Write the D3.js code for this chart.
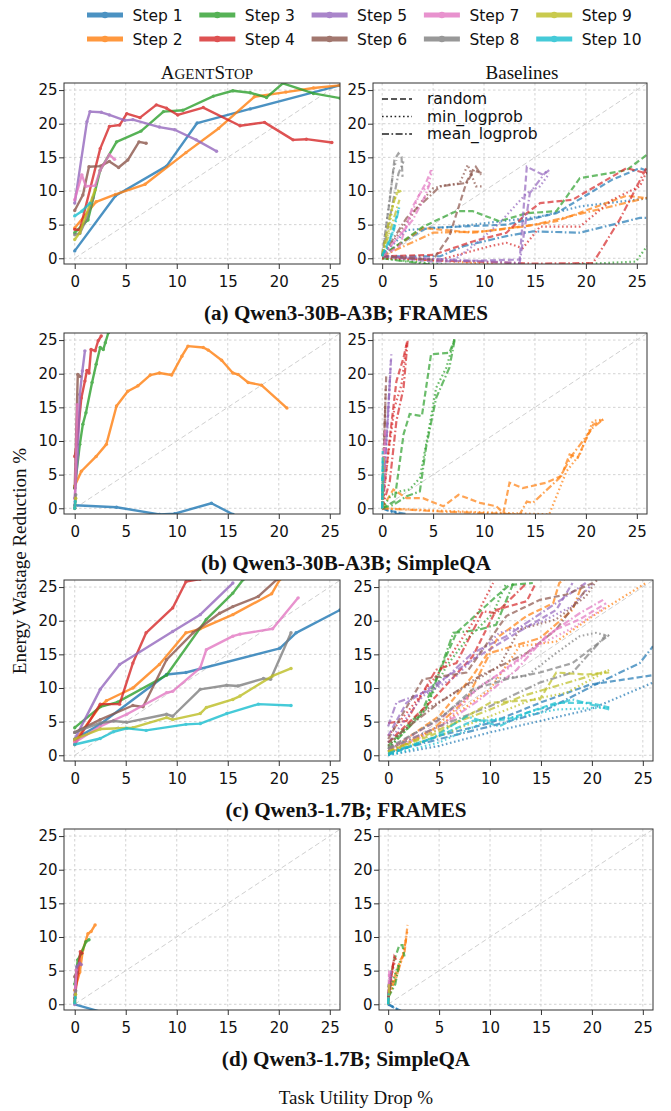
<!DOCTYPE html>
<html><head><meta charset="utf-8">
<script src="https://cdn.jsdelivr.net/npm/d3@7"></script>
<style>body{margin:0;background:#fff} svg{display:block}</style>
</head><body><svg id="c" width="671" height="1111"></svg>
<script>
const xTicks=[0,5,10,15,20,25];
const yTicks=[0,5,10,15,20,25];
const steps=["Step 1","Step 2","Step 3","Step 4","Step 5","Step 6","Step 7","Step 8","Step 9","Step 10"];
const methods=["random","min_logprob","mean_logprob"];
const captions=["(a) Qwen3-30B-A3B; FRAMES","(b) Qwen3-30B-A3B; SimpleQA","(c) Qwen3-1.7B; FRAMES","(d) Qwen3-1.7B; SimpleQA"];
const colTitles=["AgentStop","Baselines"];
const yLabel="Energy Wastage Reduction %";
const xLabel="Task Utility Drop %";
const colors=["#1f77b4","#ff7f0e","#2ca02c","#d62728","#9467bd","#8c564b","#e377c2","#7f7f7f","#bcbd22","#17becf"];

// ---- (a) Qwen3-30B-A3B; FRAMES ----
const A_agent=[
[[0,1.1],[4,9.3],[9,13.7],[12,20.1],[17.2,22.2],[26,25.7]],
[[0,4.5],[2.1,8.4],[4,9.5],[6.9,11],[10.9,15.7],[14.1,19.3],[17.6,24],[20.7,24.7],[23.4,25.3],[26,25.7]],
[[0,3.8],[1.3,5.7],[2.5,13.1],[4.1,17.3],[6.5,18.9],[8.7,21.8],[10.6,22],[13.6,24.1],[15.5,24.9],[17.2,24.6],[18.8,23.9],[20.4,26],[23.4,24.5],[26,23.8]],
[[0,4.3],[0.5,4.2],[2.5,16.3],[3.4,19.6],[4.4,19.8],[5.1,21.5],[6.4,20.9],[8,22.8],[9,22.3],[10.1,21.3],[12.6,22.4],[16.2,19.7],[18.6,20.2],[21.4,17.6],[22.7,17.7],[25.2,17.2]],
[[0,8.2],[1.2,20.3],[1.5,21.8],[2.6,21.7],[3.4,21.3],[4.9,20.5],[5.7,20.6],[8.3,19.5],[9.8,19.1],[11.9,17.6],[13.9,15.9]],
[[0,7.1],[0.8,9.4],[1.4,13.6],[2.5,13.7],[3.4,14.4],[4.3,13.5],[5.2,14.6],[6.3,17.3],[7,17.1]],
[[0,8.7],[0.7,12.4],[1.1,10.7],[2,10.8],[2.5,13.1],[3.4,15.4],[3.9,14.7]],
[[0,3.5],[0.5,3.7],[1.2,6],[1.8,9]],
[[0,2.8],[0.5,3.8],[2,10.2]],
[[0,6.3],[0.7,7],[1.5,8.2]]];
const A_random=[
[[0,0.5],[4.3,4.5],[12.2,5],[17.1,6.7],[22.6,11.7],[25.3,13.4],[26,13]],
[[0,0.3],[4,4.5],[8.9,3.8],[13.8,4.7],[17.1,5.5],[22,8.2],[24,9.3],[26,8.9]],
[[0,0.3],[4,4.7],[7.3,7],[8.9,7],[11.5,5.5],[14.2,6.7],[17.1,7],[19.4,11.9],[24,13.1],[26,15.4]],
[[0,0.3],[5,0.5],[8.9,2.5],[12.2,3.8],[14.2,6.7],[15.5,8.2],[18.7,8.7],[24,13.4],[26,12.6]],
[[0,0.3],[5,-0.5],[13.5,-0.2],[14.2,13.6],[15.8,12.4],[16.4,13.1]],
[[0,0.3],[5,-0.2],[6.6,3.3],[8.3,11.4],[8.9,13.1],[9.9,12.6]],
[[0,0.3],[1.7,1.8],[3,7.7],[4.3,11.2],[4.8,13.1]],
[[0,0.5],[0.75,8.7],[1.2,14.6],[1.6,15.6],[1.9,15.1],[2,12.1]],
[[0,0.5],[0.75,6.2],[1.4,9.7],[2.1,10.2]],
[[0,0.5],[0.75,2.8],[1.6,7.2]]];
const A_minlp=[
[[0,0.3],[2.4,4.2],[7.3,4.7],[15.5,6.2],[19.4,7.7],[26,8.9]],
[[0,0],[5,-0.3],[11,-0.9],[14,-2]],
[[0,0],[3,-0.5],[10,-1.5],[24.9,-0.5],[26,1.8]],
[[0,0],[5.7,-0.2],[10.6,1.8],[12.2,2.3],[13.8,1.5],[15.5,4.7],[19.4,4.7],[22.6,8.7],[25.3,10.7],[26,13]],
[[0,0.3],[7,-0.3],[8.9,1.8],[11.5,5.2],[14.2,9.7],[15.5,10.7],[16.4,12.6]],
[[0,0.3],[4,8.7],[5,10.4],[6.3,10.9],[7.6,11.1],[8.4,13.9],[9.2,10.7],[9.9,10.7]],
[[0,0.3],[2.4,4.7],[3.7,9.7],[4.5,10.7],[4.9,13.1]],
[[0,0.3],[0.6,7.2],[1.1,13.1],[1.4,14.6]],
[[0,0.3],[0.6,3.8],[1.1,8.2],[1.6,10.2]],
[[0,0.3],[0.6,1.8],[1.2,4.7]]];
const A_meanlp=[
[[0,0.3],[5.7,0.3],[8,1.8],[12.2,3.3],[14.8,4],[19.4,3.8],[25.3,6],[26,6]],
[[0,0.3],[5,3.8],[10,4],[15,5],[20,6.8],[26,9]],
[[0,0],[5,-1],[26,-2]],
[[0,0.3],[5,-0.3],[15,-0.8],[20.7,-0.7],[23.3,5.7],[26,13.6]],
[[0,0.3],[8,-0.3],[13.5,-0.7],[14.5,9.7],[16.1,12.9]],
[[0,0.3],[2.4,6],[5.7,10.7],[8.3,11.2],[9.2,13.6],[9.7,12.4]],
[[0,0.3],[3,5.7],[4.2,9.2],[4.7,11.2]],
[[0,0.3],[1.1,8.7],[1.6,12.6],[2.1,14.4]],
[[0,0.3],[0.9,4.7],[1.7,8.7]],
[[0,0.3],[1.1,3.8],[1.7,7.7]]];

// ---- (b) Qwen3-30B-A3B; SimpleQA ----
const B_agent=[
[[0,0.45],[4.1,0.15],[8.3,-0.9],[9.8,-0.8],[13.4,0.75],[15.5,-0.9],[17,-2]],
[[0,3.3],[0.65,5.5],[2.1,7.7],[3.1,9.5],[4.1,15.2],[5.2,17.4],[6.2,18.2],[7.4,19.8],[8.3,20.1],[9.5,19.8],[10.5,22.6],[11.1,24.1],[12.6,23.9],[13.1,23.5],[14.4,22],[15.5,20.1],[16,19.9],[17,18.7],[18.3,18.3],[20.8,14.9]],
[[0,3],[0.5,9.5],[0.8,12.5],[1.1,14.2],[1.7,18.7],[2.1,21.4],[2.5,23.9],[2.8,23.6],[3,24.6],[3.3,26.1],[3.6,27]],
[[0,7.7],[0.2,9.5],[0.65,16.4],[1,18.9],[1.2,20.5],[1.4,20.1],[1.6,23.6],[2,23.4],[2.3,24.9],[2.6,25.6]],
[[0,1.5],[0.3,8],[0.5,16.9],[0.75,20.4],[1,23.4]],
[[0,3],[0.3,19.9],[0.5,19.6]],
[[0,0],[0.25,15.4]],
[[0,0],[0.1,2]],
[[0,0],[0.1,1.5]],
[[0,0],[0.05,1]]];
const B_random=[
[[0,0],[1.4,-0.6],[2.5,-0.9]],
[[0,0],[1.1,2.8],[2.4,1.5],[4,1.5],[6,0.3],[7.5,2],[9.6,0.8],[11.2,0.3],[11.9,-0.7],[12.5,3.8],[13.8,3],[16.1,3.8],[17.6,4.8],[18.4,8],[19.2,7.5],[20,10.2],[20.7,12.4],[21.7,13.2]],
[[0,0],[1.2,1],[2.1,11],[2.7,14],[3.9,13.7],[4.8,22.9],[6.6,23.1],[7.1,25.1]],
[[0,0],[0.75,10.5],[1.4,18.9],[2.1,22.4],[2.5,25.1]],
[[0,0],[0.5,12],[0.9,22.9]],
[[0,0],[0.4,19.9]],
[[0,0],[0.3,12]],
[[0,0],[0.1,6]],
[[0,0],[0.15,8]],
[[0,0],[0.05,8.5]]];
const B_minlp=[
[[0,0],[1,-0.4],[2,-0.8]],
[[0,0],[8,-0.5],[16.4,-0.9],[18.1,5.5],[19.4,8],[20.7,13],[21.7,13.2]],
[[0,0],[0.9,2],[1.7,2.5],[2.7,2.8],[3.7,4.5],[4.5,11],[5.3,17.9],[6.3,20.9],[7.1,25.1]],
[[0,0],[0.6,8],[1.2,14.9],[1.9,18.4],[2.4,24.4]],
[[0,0],[0.6,14],[0.85,22]],
[[0,0],[0.35,18]],
[[0,0],[0.25,10]],
[[0,0],[0.1,5]],
[[0,0],[0.1,7]],
[[0,0],[0.08,6]]];
const B_meanlp=[
[[0,0],[0.8,-0.5],[1.8,-1]],
[[0,0],[6,-0.5],[13.5,-0.9],[14.2,1],[14.8,0.8],[17.4,4.5],[18.7,8],[20.7,12],[21.7,13.2]],
[[0,0],[1.1,0.5],[2.4,1.8],[3.7,2.5],[4.3,9],[5.3,16.4],[6.6,20.9],[7.1,24.9]],
[[0,0],[0.75,4],[1.4,13],[2.1,17.9],[2.5,24.9]],
[[0,0],[0.4,10],[0.8,20]],
[[0,0],[0.3,15]],
[[0,0],[0.2,9]],
[[0,0],[0.12,4]],
[[0,0],[0.1,6]],
[[0,0],[0.06,7]]];

// ---- (c) Qwen3-1.7B; FRAMES ----
const C_agent=[
[[0,2.4],[2.5,4.6],[9,12],[10.9,12.3],[20.1,15.9],[21.7,18.2],[26,21.6]],
[[0,2.1],[2.5,7.3],[3.1,8.1],[5.7,10],[8.3,13.5],[10.9,18.2],[12.3,18.8],[15.5,20.9],[19.3,24],[20.1,26.1]],
[[0,4.1],[2.5,7.2],[4.2,7.9],[9,11.9],[12.9,20.2],[15.5,24.1],[16.5,26.1]],
[[0,1.6],[2.5,7.6],[4.4,7.6],[5.7,13.7],[7,18.2],[9.6,21.9],[10.9,25.8],[12.3,26.2]],
[[0,2.4],[2.5,9.8],[4.4,13.5],[9.6,18.4],[12.3,20.9],[15.5,25.6]],
[[0,3.4],[2.5,5.3],[5.7,7.4],[6.7,7.2],[9,14.2],[11.6,18.2],[14.2,21.1],[15.5,22.1],[18,23.6],[19.8,26.1]],
[[0,1.9],[2.5,4.3],[5.1,6.1],[9,9.3],[9.6,9.5],[12.3,13],[12.9,15.7],[15.5,17.7],[16.2,18],[19.4,18.8],[21.9,23.4]],
[[0,3.4],[2.5,4.8],[3.8,5.1],[5.1,4.9],[9,6.1],[9.6,5.8],[12.3,9.8],[14.9,10.4],[16,10.3],[18.5,11.4],[19.2,11.3],[21.2,18.2]],
[[0,2.4],[2.5,3.9],[5.7,4.1],[9,5.6],[9.6,5.3],[12.3,6.2],[12.9,7.1],[15.5,8.3],[16.2,8.8],[19.4,11.8],[21.2,12.9]],
[[0,1.6],[2.5,2.5],[3.8,3.5],[5.1,4],[7,3.7],[10.9,4.6],[12.3,4.7],[14.9,6.2],[18,7.6],[21.2,7.4]]];
const C_random=[
[[0,0.1],[5,2.9],[10,4.8],[14.9,7.8],[19.8,10.5],[26,11.9]],
[[0,0.6],[5,5.8],[8.3,11.8],[10.9,17.7],[13.6,20.7],[16.2,22.6],[16.8,25.6],[18,27]],
[[0,1.4],[3.4,6.8],[6.7,18.2],[10.6,23.6],[11.9,25.3],[14.2,25.6]],
[[0,1.9],[4.4,8.3],[8.3,14.7],[10.6,21.6],[13.6,22.9],[14.5,25.6]],
[[0,2.9],[1.8,7.8],[4.4,10.3],[8.3,14.2],[12.3,17.9],[16.5,21.6],[18.1,25.6]],
[[0,2.4],[3.4,11.3],[7.7,12.3],[11.6,20.7],[14.9,23.1],[17.5,23.9],[20.1,25.6]],
[[0,0.9],[5,5.3],[8.3,9.3],[13.2,14.7],[16.5,18.7],[18.8,20.2],[21.4,22.6]],
[[0,1.1],[5,5.3],[8.3,9.8],[11.6,11.3],[14.9,12.3],[18.1,13.7],[21.7,17.9]],
[[0,0.6],[5,3.4],[10,7.8],[14.9,8.3],[16.5,12.3],[19.4,12],[21.7,12.3]],
[[0,0.1],[5,2.9],[8.3,5.1],[11.6,5.3],[16.5,7.8],[19.8,7.8],[21.7,7.1]]];
const C_minlp=[
[[0,0],[5,1.4],[10,3.4],[14.9,5.1],[19.8,6.8],[26,10.8]],
[[0,0.1],[5,4.3],[10,9.8],[12.9,16.2],[16.5,16.9],[20.1,20.7],[23.7,24.1],[25.3,25.6]],
[[0,1.1],[3.4,6.3],[5.7,13.2],[7.7,17.2],[10.3,21.1],[11.6,25.6]],
[[0,2.9],[5,12.3],[8.3,19.7],[10.3,25.6]],
[[0,1.9],[3.4,8.8],[6.7,11.8],[10.9,18.2],[14.9,19.7],[18.1,22.2],[20.1,25.6]],
[[0,1.4],[3.4,6.5],[7.7,10.3],[10.9,13.2],[12.9,18.7],[16.5,20.2],[19.4,23.6],[20.7,26.5]],
[[0,0.6],[5,3.9],[9,10.3],[11.6,12.7],[14.9,16.5],[18.1,18.9],[21.4,22.1]],
[[0,0.6],[5.7,6.3],[10,11.3],[13.6,11.8],[16.5,15.2],[18.8,17.7],[20.4,18.2],[21.7,17.7]],
[[0,0.4],[5,2.9],[10,5.8],[14.2,8.3],[17.5,9.3],[21.7,12.7]],
[[0,0],[5,1.9],[10,5.3],[13.2,5.8],[16.5,6.8],[21.7,7.1]]];
const C_meanlp=[
[[0,0.4],[5,2.4],[10,4.3],[14.9,6.3],[21.4,11.3],[24.7,13.7],[26,16.2]],
[[0,0.4],[4.4,3.9],[7.7,8.3],[10,15.2],[14.9,17.4],[18.1,21.6],[19.1,25.6]],
[[0,0.9],[3.7,6.8],[6.4,18.2],[7.7,18.4],[9,18.7],[10.6,19.4],[12.3,25.6]],
[[0,4.8],[1.8,5.1],[4.7,12.7],[6.7,13.7],[9.3,21.4],[10.6,21.1],[13.6,25.6]],
[[0,4.3],[0.8,7.8],[4.4,9.8],[8.3,15.2],[11.6,17.7],[15.5,21.6],[19.4,25.6]],
[[0,1.9],[5,7.8],[9,11.8],[13.6,15.2],[16.5,18.7],[19.4,24.6]],
[[0,0.9],[5.7,4.8],[9,8.3],[12.6,12.7],[15.5,17.7],[18.8,21.1],[21.1,23.1]],
[[0,0.9],[5,4.3],[10,7.3],[14.9,10.8],[18.1,12.3],[21.4,17.9]],
[[0,0.5],[5.7,4.3],[10,6.8],[13.2,8.8],[16.5,10.3],[21.4,12.5]],
[[0,0.3],[4.4,2.6],[7.7,5.8],[10.9,4.3],[13.6,6.3],[18.1,8.3],[21.7,6.8]]];

// ---- (d) Qwen3-1.7B; SimpleQA ----
const D_agent=[
[[0,0],[2.5,-1.1],[3,-1.5]],
[[0,2.1],[0.5,4.8],[0.8,8.1],[1.3,10.5],[1.6,10.8],[2,11.8]],
[[0,3],[0.3,6.6],[0.65,7.6],[1.1,9.3],[1.4,9.6]],
[[0,0.9],[0.3,4.6],[0.55,7.8],[0.7,7.6]],
[[0,1.4],[0.2,5.6],[0.5,6.1],[0.65,5.9]],
[[0,4.1],[0.2,4.8]],
[[0,0],[0.15,5.1]],
[[0,0.5],[0.1,2]],
[[0,0.3],[0.08,1.5]],
[[0,0.2],[0.05,1]]];
const D_random=[
[[0,0],[1.4,-1.1]],
[[0,1.5],[0.75,4.6],[1.2,6.6],[1.6,7.6],[1.9,11.8]],
[[0,2.5],[0.6,6.6],[1.1,8.8],[1.4,8.8],[1.6,7.1]],
[[0,1.5],[0.6,7.1],[0.8,6.6]],
[[0,1],[0.25,4.6],[0.4,4.3]],
[[0,1],[0.3,3.5]],
[[0,0],[0.1,4.8],[0.3,4.6]],
[[0,0],[0.1,2.5]],
[[0,0],[0.1,2]],
[[0,0],[0.05,1.5]]];
const D_minlp=[
[[0,0],[1.2,-1]],
[[0,1],[0.8,4],[1.4,7],[1.9,11]],
[[0,1.5],[0.8,5],[1.2,6.5]],
[[0,1],[0.5,5.5],[0.7,6.5]],
[[0,1],[0.3,4.2]],
[[0,0.5],[0.2,3]],
[[0,0],[0.1,4]],
[[0,0],[0.08,2]],
[[0,0],[0.1,2.5]],
[[0,0],[0.05,1]]];
const D_meanlp=[
[[0,0],[1,-0.9]],
[[0,1],[0.9,4.5],[1.5,7.5],[1.8,10]],
[[0,1],[0.7,3],[1.1,6.1]],
[[0,1],[0.5,6],[0.6,7]],
[[0,0.5],[0.3,5]],
[[0,0.5],[0.25,4]],
[[0,0],[0.12,4.5]],
[[0,0],[0.06,1.5]],
[[0,0],[0.1,3]],
[[0,0],[0.05,2]]];

// ---------- layout ----------
const rowsCfg=[
 {top:83, agent:A_agent, base:[A_random,A_minlp,A_meanlp], rx:373},
 {top:333,agent:B_agent, base:[B_random,B_minlp,B_meanlp], rx:373},
 {top:580,agent:C_agent, base:[C_random,C_minlp,C_meanlp], rx:379},
 {top:829,agent:D_agent, base:[D_random,D_minlp,D_meanlp], rx:379}];
const PH=181, LX0=64, LW=276, RW=274;
const dashes={random:"6,3",min_logprob:"1.6,2.6",mean_logprob:"7,2.5,1.6,2.5"};
const SANS="DejaVu Sans", SERIF="Liberation Serif";

const svg=d3.select("#c");
const line=d3.line();
let clipId=0;

function panel(x0,w,top,domX,series,isAgent,withLegend){
  const x=d3.scaleLinear().domain(domX).range([x0,x0+w]);
  const y=d3.scaleLinear().domain([-0.85,26.05]).range([top+PH,top]);
  const g=svg.append("g");
  const id="clip"+(clipId++);
  g.append("clipPath").attr("id",id).append("rect").attr("x",x0).attr("y",top).attr("width",w).attr("height",PH);
  const inner=g.append("g").attr("clip-path",`url(#${id})`);
  inner.selectAll(".gx").data(xTicks).join("line").attr("x1",d=>x(d)).attr("x2",d=>x(d)).attr("y1",top).attr("y2",top+PH)
    .attr("stroke","#c8c8c8").attr("stroke-width",0.8).attr("stroke-dasharray","2.5,2.5");
  inner.selectAll(".gy").data(yTicks).join("line").attr("y1",d=>y(d)).attr("y2",d=>y(d)).attr("x1",x0).attr("x2",x0+w)
    .attr("stroke","#c8c8c8").attr("stroke-width",0.8).attr("stroke-dasharray","2.5,2.5");
  inner.append("path").attr("d",line([[x(0),y(0)],[x(26),y(26)]])).attr("stroke","#d0d0d0").attr("stroke-width",1)
    .attr("stroke-dasharray","5,3").attr("fill","none");
  line.x(d=>x(d[0])).y(d=>y(d[1]));
  if(isAgent){
    series.forEach((s,i)=>{
      const gg=inner.append("g").attr("opacity",0.8);
      gg.append("path").attr("d",line(s)).attr("fill","none").attr("stroke",colors[i]).attr("stroke-width",2.4).attr("stroke-linejoin","round");
      gg.selectAll("circle").data(s).join("circle").attr("cx",d=>x(d[0])).attr("cy",d=>y(d[1])).attr("r",1.7).attr("fill",colors[i]);
    });
  } else {
    for(let i=0;i<10;i++){
      methods.forEach((m,k)=>{
        inner.append("path").attr("d",line(series[k][i])).attr("fill","none").attr("stroke",colors[i])
          .attr("stroke-width",2.2).attr("opacity",0.7).attr("stroke-dasharray",dashes[m]);
      });
    }
  }
  line.x(d=>d[0]).y(d=>d[1]);
  const ax=g.append("g").attr("transform",`translate(0,${top+PH})`).call(d3.axisBottom(x).tickValues(xTicks).tickSize(5).tickPadding(7.5));
  const ay=g.append("g").attr("transform",`translate(${x0},0)`).call(d3.axisLeft(y).tickValues(yTicks).tickSize(5).tickPadding(1.5));
  [ax,ay].forEach(a=>{a.select(".domain").remove();a.selectAll("line").attr("stroke","#333");
    a.selectAll("text").attr("font-family",SANS).attr("font-size",15).attr("fill","#111");});
  g.append("rect").attr("x",x0).attr("y",top).attr("width",w).attr("height",PH).attr("fill","none").attr("stroke","#333").attr("stroke-width",1);
  if(withLegend){
    methods.forEach((m,k)=>{
      const ly=top+16+k*17.5;
      g.append("line").attr("x1",x0+9).attr("x2",x0+39).attr("y1",ly).attr("y2",ly).attr("stroke","#222").attr("stroke-width",1.5).attr("stroke-dasharray",dashes[m]);
      g.append("text").attr("x",x0+54).attr("y",ly+5).text(m).attr("font-family",SANS).attr("font-size",15.5).attr("fill","#111");
    });
  }
}

rowsCfg.forEach((r,ri)=>{
  panel(LX0,LW,r.top,[-1.05,26],r.agent,true,false);
  panel(r.rx,RW,r.top,[-0.9,26],r.base,false,ri===0);
  svg.append("text").attr("class","cap").attr("x",346).attr("y",r.top+PH+56).attr("text-anchor","middle")
    .attr("font-family",SERIF).attr("font-weight","bold").attr("font-size",20).attr("fill","#111").text(captions[ri]);
});

const t1=svg.append("text").attr("x",207).attr("y",79).attr("text-anchor","middle").attr("font-family",SERIF).attr("font-size",19).attr("fill","#111");
t1.append("tspan").text("A");
t1.append("tspan").attr("font-size",15).text("GENT");
t1.append("tspan").text("S");
t1.append("tspan").attr("font-size",15).text("TOP");
svg.append("text").attr("x",522).attr("y",79).attr("text-anchor","middle").attr("font-family",SERIF).attr("font-size",19).attr("fill","#111").text(colTitles[1]);

svg.append("text").attr("transform","translate(26,561) rotate(-90)").attr("text-anchor","middle").attr("font-family",SERIF)
  .attr("font-size",19).attr("fill","#111").text(yLabel);
svg.append("text").attr("x",356).attr("y",1104).attr("text-anchor","middle").attr("font-family",SERIF)
  .attr("font-size",19).attr("fill","#111").text(xLabel);

steps.forEach((s,i)=>{
  const col=Math.floor(i/2), row=i%2;
  const lx=87+col*112.3, ly=15+row*24;
  const g=svg.append("g").attr("opacity",0.8);
  g.append("line").attr("x1",lx).attr("x2",lx+36).attr("y1",ly).attr("y2",ly).attr("stroke",colors[i]).attr("stroke-width",5);
  g.append("circle").attr("cx",lx+18).attr("cy",ly).attr("r",3.2).attr("fill",colors[i]);
  svg.append("text").attr("x",lx+45.5).attr("y",ly+5.5).attr("font-family",SANS).attr("font-size",15.5).attr("fill","#111").text(s);
});

const capNodes=svg.selectAll("text.cap").nodes();
const k=284/capNodes[0].getComputedTextLength();
capNodes.forEach(n=>{const L=n.getComputedTextLength();n.setAttribute("textLength",L*k);n.setAttribute("lengthAdjust","spacingAndGlyphs");});
</script></body></html>
